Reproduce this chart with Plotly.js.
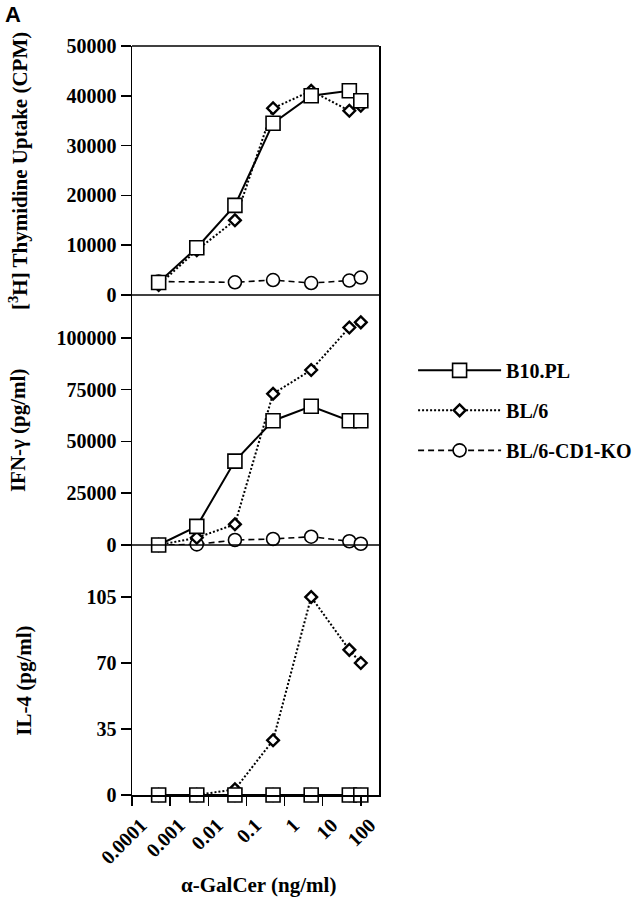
<!DOCTYPE html>
<html>
<head>
<meta charset="utf-8">
<script src="https://cdn.plot.ly/plotly-3.0.1.min.js"></script>
<style>html,body{margin:0;padding:0;background:#fff;}#chart{width:637px;height:900px;}</style>
</head>
<body>
<div id="chart"></div>
<script>
// Doses of alpha-GalCer (ng/ml)
const dose = [0.0005, 0.005, 0.05, 0.5, 5, 50, 100];
const doseKO_cpm = [0.0005, 0.05, 0.5, 5, 50, 100];

const seriesNames = ["B10.PL", "BL/6", "BL/6-CD1-KO"];

// [3H] Thymidine uptake (CPM)
const cpm_B10PL = [2500, 9500, 18000, 34500, 40000, 41000, 39000];
const cpm_BL6 = [2000, 9000, 15000, 37500, 41000, 37000, 38000];
const cpm_KO = [2700, 2550, 3000, 2400, 2900, 3500];

// IFN-gamma (pg/ml)
const ifn_B10PL = [0, 9000, 40500, 60000, 67000, 60000, 60000];
const ifn_BL6 = [0, 3500, 10000, 73000, 84500, 105000, 107500];
const ifn_KO = [0, 300, 2400, 2900, 4000, 1800, 600];

// IL-4 (pg/ml)
const il4_B10PL = [0, 0, 0, 0, 0, 0, 0];
const il4_BL6 = [0, 0, 3, 29, 105, 77, 70];
const il4_KO = [0, 0, 0, 0, 0, 0, 0];

const xTickVals = [0.0001, 0.001, 0.01, 0.1, 1, 10, 100];
const xTickText = ["0.0001", "0.001", "0.01", "0.1", "1", "10", "100"];
const cpmTicks = [0, 10000, 20000, 30000, 40000, 50000];
const ifnTicks = [0, 25000, 50000, 75000, 100000];
const il4Ticks = [0, 35, 70, 105];

const serif = "Liberation Serif, Times New Roman, serif";

const styles = [
  {line: {color: "#000", width: 2, dash: "solid"}, marker: {symbol: "square", size: 14, color: "#fff", line: {color: "#000", width: 1.6}}},
  {line: {color: "#000", width: 2, dash: "2px,2px"}, marker: {symbol: "diamond", size: 9, color: "#fff", line: {color: "#000", width: 2.4}}},
  {line: {color: "#000", width: 1.6, dash: "6px,4px"}, marker: {symbol: "circle", size: 13, color: "#fff", line: {color: "#000", width: 1.6}}}
];

function tr(x, y, si, yaxis, show) {
  return {
    x: x, y: y, type: "scatter", mode: "lines+markers",
    name: seriesNames[si], legendgroup: "g" + si, legendrank: si + 1,
    showlegend: show, yaxis: yaxis, xaxis: "x", cliponaxis: false,
    line: styles[si].line, marker: styles[si].marker
  };
}

// Draw order: KO, BL/6, B10.PL (squares on top)
const data = [
  tr(dose, il4_KO, 2, "y", false),
  tr(dose, il4_BL6, 1, "y", false),
  tr(dose, il4_B10PL, 0, "y", false),
  tr(dose, ifn_KO, 2, "y2", false),
  tr(dose, ifn_BL6, 1, "y2", false),
  tr(dose, ifn_B10PL, 0, "y2", false),
  tr(doseKO_cpm, cpm_KO, 2, "y3", true),
  tr(dose, cpm_BL6, 1, "y3", true),
  tr(dose, cpm_B10PL, 0, "y3", true)
];

const tickFont = {family: serif, size: 20, color: "#000", weight: "bold"};
const titleFont = {family: serif, size: 21, color: "#000", weight: "bold"};
const d1 = 250 / 749, d2 = 500 / 749;

function yax(domain, range, ticks) {
  return {
    domain: domain, range: range, tickvals: ticks, ticktext: ticks.map(String),
    ticks: "outside", ticklen: 10, tickwidth: 1.5, tickcolor: "#000",
    showline: true, mirror: true, linecolor: "#000", linewidth: 1.5,
    showgrid: false, zeroline: false, tickfont: tickFont, anchor: "x", fixedrange: true
  };
}

const layout = {
  width: 637, height: 900,
  margin: {l: 132, r: 258, t: 46, b: 105, autoexpand: false},
  paper_bgcolor: "#fff", plot_bgcolor: "#fff",
  showlegend: true,
  legend: {
    x: 1.138, y: 0.593, xanchor: "left", yanchor: "top",
    font: {family: serif, size: 20, color: "#000", weight: "bold"},
    tracegroupgap: 11, itemwidth: 83, traceorder: "grouped",
    bgcolor: "rgba(0,0,0,0)"
  },
  xaxis: {
    type: "log", range: [-4, Math.log10(300)], anchor: "y",
    tickvals: xTickVals, ticktext: xTickText, tickangle: -45, ticklabelshift: 9,
    ticks: "outside", ticklen: 9, tickwidth: 1.5, tickcolor: "#000",
    showline: true, linecolor: "#000", linewidth: 1.5, showgrid: false, zeroline: false,
    tickfont: tickFont, fixedrange: true
  },
  yaxis: yax([0, d1], [0, 132.6], il4Ticks),
  yaxis2: yax([d1, d2], [0, 120700], ifnTicks),
  yaxis3: yax([d2, 1], [0, 50000], cpmTicks),
  shapes: [
    {type: "line", xref: "paper", yref: "paper", x0: 0, x1: 1, y0: 1, y1: 1, line: {color: "#000", width: 1.5}},
    {type: "line", xref: "paper", yref: "paper", x0: 0, x1: 1, y0: d1, y1: d1, line: {color: "#000", width: 1.5}},
    {type: "line", xref: "paper", yref: "paper", x0: 0, x1: 1, y0: d2, y1: d2, line: {color: "#000", width: 1.5}}
  ],
  annotations: [
    {text: "A", xref: "paper", yref: "paper", x: -0.482, y: 1.0427, xanchor: "center", yanchor: "middle", showarrow: false,
     font: {family: "Liberation Sans, Arial, sans-serif", size: 22, color: "#000", weight: "bold"}},
    {text: "[<sup>3</sup>H] Thymidine Uptake (CPM)", xref: "paper", yref: "paper", x: -0.462, y: 0.833, textangle: -90,
     xanchor: "center", yanchor: "middle", showarrow: false, font: titleFont},
    {text: "IFN-γ (pg/ml)", xref: "paper", yref: "paper", x: -0.462, y: 0.487, textangle: -90,
     xanchor: "center", yanchor: "middle", showarrow: false, font: titleFont},
    {text: "IL-4 (pg/ml)", xref: "paper", yref: "paper", x: -0.435, y: 0.152, textangle: -90,
     xanchor: "center", yanchor: "middle", showarrow: false, font: titleFont},
    {text: "α-GalCer (ng/ml)", xref: "paper", yref: "paper", x: 0.514, y: -0.120,
     xanchor: "center", yanchor: "middle", showarrow: false, font: titleFont}
  ]
};

Plotly.newPlot("chart", data, layout, {displayModeBar: false, staticPlot: true});
</script>
</body>
</html>
